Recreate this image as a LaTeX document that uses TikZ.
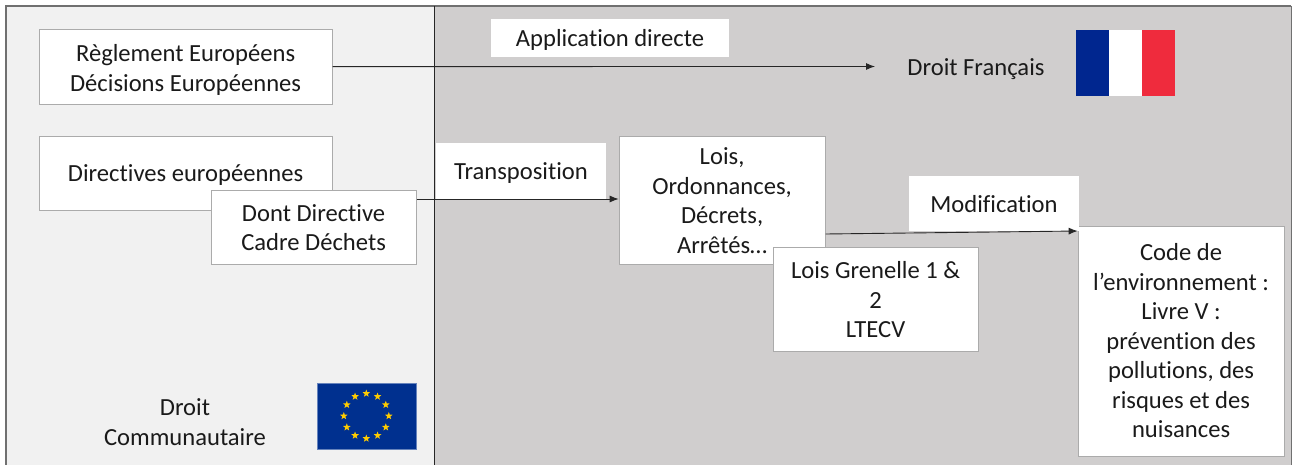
\documentclass[tikz,border=0pt]{standalone}
\usepackage{fontspec}
\setmainfont[Ligatures=CommonOff]{Carlito}
\usetikzlibrary{arrows.meta,shapes.geometric,calc}
\definecolor{panelL}{HTML}{F1F1F1}
\definecolor{panelR}{HTML}{D0CECE}
\definecolor{frameC}{HTML}{707070}
\definecolor{boxedge}{HTML}{ABABAB}
\definecolor{txt}{HTML}{1A1A1A}
\definecolor{eublue}{HTML}{00308F}
\definecolor{eustar}{HTML}{FFCC00}
\definecolor{frblue}{HTML}{00268F}
\definecolor{frred}{HTML}{EF2B3D}
% lowers a centred block of lines inside its node, the node itself staying put
\newcommand{\lowtext}[2][2pt]{\raisebox{-#1}[\height][\depth]{\begin{tabular}{@{}c@{}}#2\end{tabular}}}
\tikzset{
  txtbase/.style={font=\fontsize{24.6}{29.5}\selectfont,text=txt,align=center,inner sep=0pt},
  box/.style={txtbase,draw=boxedge,line width=0.9pt,fill=white},
  tag/.style={txtbase,fill=white},
  plain/.style={txtbase},
  link/.style={draw=black!85,line width=0.9pt,-{Latex[length=9pt,width=7pt]}},
  eustarn/.style={star,star points=5,star point ratio=2.4,fill=eustar,inner sep=0pt,minimum size=8pt}
}
\begin{document}
\begin{tikzpicture}[x=1pt,y=-1pt]
\useasboundingbox (0,0) rectangle (1292,465);
\fill[white] (0,0) rectangle (1292,465);
\fill[panelL] (6,6) rectangle (434.5,465);
\fill[panelR] (434.5,6) rectangle (1291,465);
\draw[frameC,line width=2pt] (6,465) -- (6,6) -- (1291,6);
\draw[frameC,line width=1pt] (1291,6) -- (1291,465);
\draw[black!85,line width=1.2pt] (434.5,6) -- (434.5,465);

\node[box,minimum width=293pt,minimum height=75pt] (regl) at (185.6,66.6) {\lowtext[4pt]{Règlement Européens\\Décisions Européennes}};
\node[box,minimum width=293pt,minimum height=74pt] (dir) at (185.6,173.1) {\lowtext[3pt]{Directives européennes}};
\node[box,minimum width=205pt,minimum height=74pt] (dont) at (313.6,227.1) {\lowtext[3pt]{Dont Directive\\Cadre Déchets}};
\node[box,minimum width=206pt,minimum height=128pt] (lois) at (722.1,200.1) {\lowtext[3pt]{Lois,\\Ordonnances,\\Décrets,\\Arrêtés…}};
\node[box,minimum width=205pt,minimum height=104pt] (gren) at (875.6,299.1) {\lowtext[3pt]{Lois Grenelle 1 \&\\2\\LTECV}};
\node[box,minimum width=206pt,minimum height=230pt] (code) at (1181.1,341.1) {\lowtext[2pt]{Code de\\l’environnement :\\Livre V :\\prévention des\\pollutions, des\\risques et des\\nuisances}};
\node[tag,minimum width=238pt,minimum height=38pt] (app) at (610,38) {\lowtext[3pt]{Application directe}};
\node[tag,minimum width=170pt,minimum height=57pt] (trans) at (521,171.5) {\lowtext[2pt]{Transposition}};
\node[tag,minimum width=170pt,minimum height=55pt] (modif) at (994,203.5) {\lowtext[3pt]{Modification}};
\node[plain] (fr) at (976,69) {Droit Français};
\node[plain] (comm) at (185,422) {Droit\\Communautaire};

\coordinate (a1) at (875,66.5);
\draw[link] (regl.east) -- (a1);
\draw[link] (dont.east |- 0,199) -- (lois.west |- 0,199);
\draw[link] (lois.east |- 0,234) -- (code.west |- 0,231);

% French flag
\node[fill=frblue,minimum width=33pt,minimum height=66pt,inner sep=0pt] (frb) at (1092.3,62.8) {};
\node[fill=white,minimum width=33pt,minimum height=66pt,inner sep=0pt] (frw) at (1125.3,62.8) {};
\node[fill=frred,minimum width=33pt,minimum height=66pt,inner sep=0pt] (frr) at (1158.3,62.8) {};
% EU flag
\node[fill=eublue,draw=eublue!60!white,line width=0.5pt,minimum width=99pt,minimum height=66pt,inner sep=0pt] (eu) at (366.3,416) {};
\foreach \a in {0,30,...,330}{
  \node[eustarn] at ($(366.3,416)+(\a:22.5)$) {};
}
\end{tikzpicture}
\end{document}
